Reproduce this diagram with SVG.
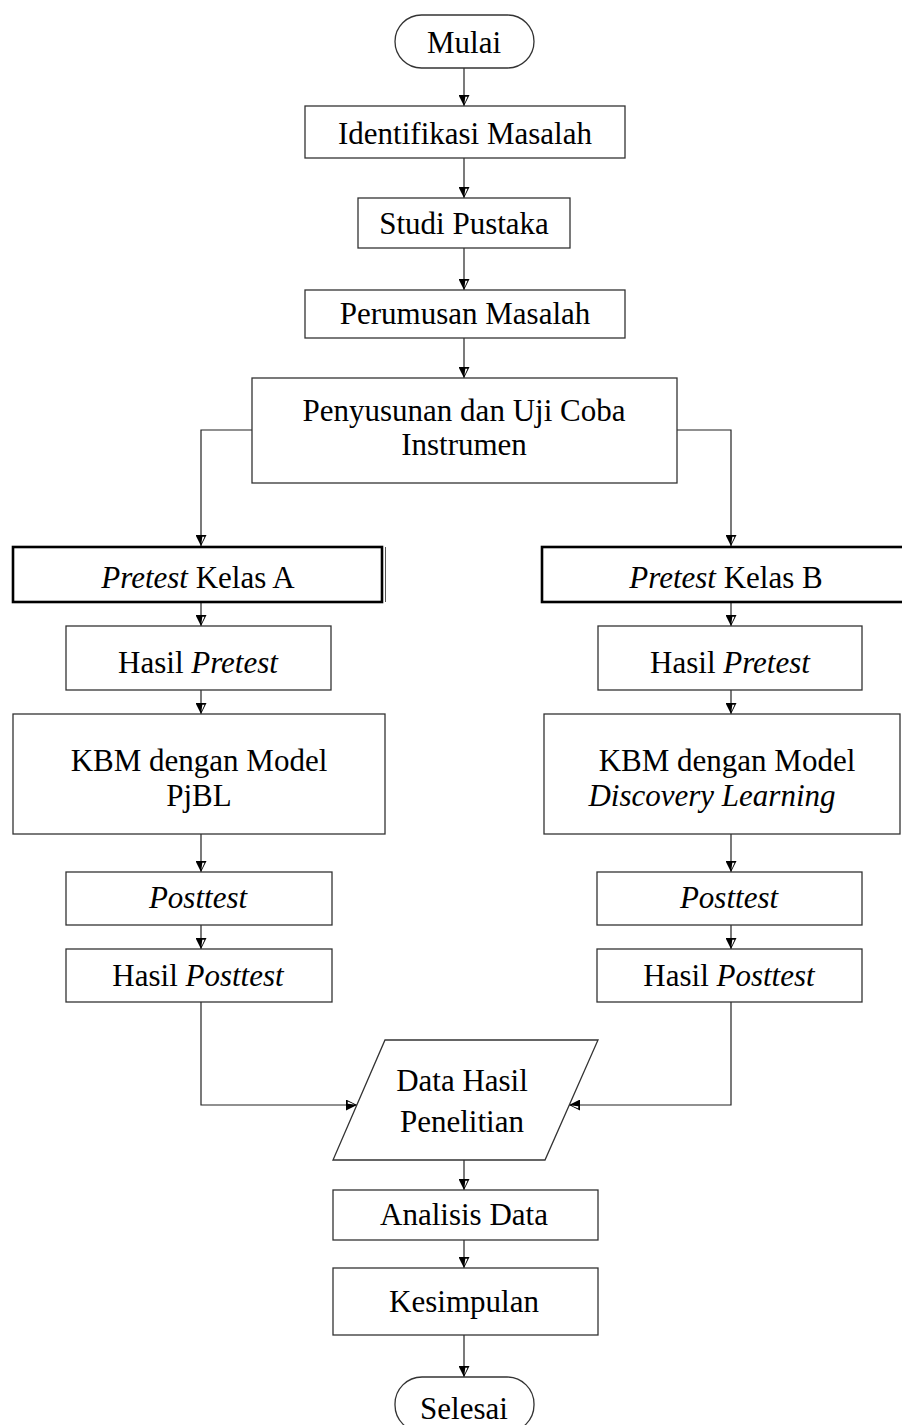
<svg xmlns="http://www.w3.org/2000/svg" width="902" height="1425" viewBox="0 0 902 1425">
<style>
.box{fill:#fff;stroke:#333;stroke-width:1.3}
.thick{fill:#fff;stroke:#000;stroke-width:2.6}
.t{font-family:"Liberation Serif","Times New Roman",serif;font-size:31px;fill:#000;text-anchor:middle;dominant-baseline:central}
.i{font-style:italic}
.c{fill:none;stroke:#222;stroke-width:1.2}
</style>
<defs>
<marker id="ah" viewBox="0 0 10 10" refX="10" refY="5" markerWidth="11" markerHeight="11" markerUnits="userSpaceOnUse" orient="auto">
<path d="M0,0 L10,5 L0,10 Z" fill="#000"/>
<path d="M1.6,1.8 L1.6,3.8 L7.8,4.6 Z" fill="#fff"/>
</marker>
</defs>
<g id="connectors">
<path class="c" d="M464,68 V106" marker-end="url(#ah)"/>
<path class="c" d="M464,158 V198" marker-end="url(#ah)"/>
<path class="c" d="M464,248 V290" marker-end="url(#ah)"/>
<path class="c" d="M464,338 V378" marker-end="url(#ah)"/>
<path class="c" d="M252,430 H201 V546" marker-end="url(#ah)"/>
<path class="c" d="M677,430 H731 V546" marker-end="url(#ah)"/>
<path class="c" d="M201,602 V626" marker-end="url(#ah)"/>
<path class="c" d="M201,690 V714" marker-end="url(#ah)"/>
<path class="c" d="M201,834 V872" marker-end="url(#ah)"/>
<path class="c" d="M201,925 V949" marker-end="url(#ah)"/>
<path class="c" d="M731,602 V626" marker-end="url(#ah)"/>
<path class="c" d="M731,690 V714" marker-end="url(#ah)"/>
<path class="c" d="M731,834 V872" marker-end="url(#ah)"/>
<path class="c" d="M731,925 V949" marker-end="url(#ah)"/>
<path class="c" d="M201,1002 V1105 H357" marker-end="url(#ah)"/>
<path class="c" d="M731,1002 V1105 H569" marker-end="url(#ah)"/>
<path class="c" d="M464,1160 V1190" marker-end="url(#ah)"/>
<path class="c" d="M464,1240 V1268" marker-end="url(#ah)"/>
<path class="c" d="M464,1335 V1377" marker-end="url(#ah)"/>
</g>
<g id="mulai"><rect class="box" x="395" y="15" width="139" height="53" rx="26.5"/><text class="t" x="464" y="42">Mulai</text></g>
<g id="identifikasi"><rect class="box" x="305" y="106" width="320" height="52"/><text class="t" x="465" y="133">Identifikasi Masalah</text></g>
<g id="studi"><rect class="box" x="358" y="198" width="212" height="50"/><text class="t" x="464" y="223">Studi Pustaka</text></g>
<g id="perumusan"><rect class="box" x="305" y="290" width="320" height="48"/><text class="t" x="465" y="313">Perumusan Masalah</text></g>
<g id="penyusunan"><rect class="box" x="252" y="378" width="425" height="105"/><text class="t" x="464" y="410">Penyusunan dan Uji Coba</text><text class="t" x="464" y="444">Instrumen</text></g>
<g id="pretestA"><line x1="385.5" y1="547" x2="385.5" y2="602" stroke="#555" stroke-width="1"/><rect class="thick" x="13" y="547" width="369" height="55"/><text class="t" x="198" y="577"><tspan class="i">Pretest</tspan> Kelas A</text></g>
<g id="pretestB"><rect class="thick" x="542" y="547" width="365" height="55"/><text class="t" x="726" y="577"><tspan class="i">Pretest</tspan> Kelas B</text></g>
<g id="hasilPretestA"><rect class="box" x="66" y="626" width="265" height="64"/><text class="t" x="198" y="662">Hasil <tspan class="i">Pretest</tspan></text></g>
<g id="hasilPretestB"><rect class="box" x="598" y="626" width="264" height="64"/><text class="t" x="730" y="662">Hasil <tspan class="i">Pretest</tspan></text></g>
<g id="kbmA"><rect class="box" x="13" y="714" width="372" height="120"/><text class="t" x="199" y="760">KBM dengan Model</text><text class="t" x="199" y="795">PjBL</text></g>
<g id="kbmB"><rect class="box" x="544" y="714" width="356" height="120"/><text class="t" x="727" y="760">KBM dengan Model</text><text class="t i" x="712" y="795">Discovery Learning</text></g>
<g id="posttestA"><rect class="box" x="66" y="872" width="266" height="53"/><text class="t i" x="198" y="897">Posttest</text></g>
<g id="posttestB"><rect class="box" x="597" y="872" width="265" height="53"/><text class="t i" x="729" y="897">Posttest</text></g>
<g id="hasilPosttestA"><rect class="box" x="66" y="949" width="266" height="53"/><text class="t" x="198" y="975">Hasil <tspan class="i">Posttest</tspan></text></g>
<g id="hasilPosttestB"><rect class="box" x="597" y="949" width="265" height="53"/><text class="t" x="729" y="975">Hasil <tspan class="i">Posttest</tspan></text></g>
<g id="data"><polygon class="box" points="385,1040 598,1040 545,1160 333,1160"/><text class="t" x="462" y="1080">Data Hasil</text><text class="t" x="462" y="1121">Penelitian</text></g>
<g id="analisis"><rect class="box" x="333" y="1190" width="265" height="50"/><text class="t" x="464" y="1214">Analisis Data</text></g>
<g id="kesimpulan"><rect class="box" x="333" y="1268" width="265" height="67"/><text class="t" x="464" y="1301">Kesimpulan</text></g>
<g id="selesai"><rect class="box" x="395" y="1377" width="139" height="55" rx="27"/><text class="t" x="464" y="1408">Selesai</text></g>
</svg>
